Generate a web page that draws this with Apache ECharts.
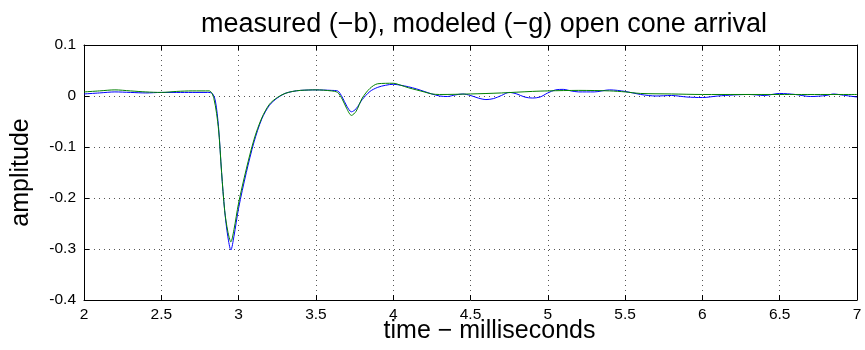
<!DOCTYPE html>
<html>
<head>
<meta charset="utf-8">
<script src="https://cdn.jsdelivr.net/npm/echarts@6/dist/echarts.min.js"></script>
<style>html,body{margin:0;padding:0;background:#fff}#c{width:865px;height:350px}</style>
</head>
<body>
<div id="c"></div>
<script>
var titleText = "measured (\u2212b), modeled (\u2212g) open cone arrival";
var xAxisName = "time \u2212 milliseconds";
var yAxisName = "amplitude";
var xTicks = [2, 2.5, 3, 3.5, 4, 4.5, 5, 5.5, 6, 6.5, 7];
var yTicks = [-0.4, -0.3, -0.2, -0.1, 0, 0.1];

var measuredTime = [2.0,2.1,2.2,2.3,2.4,2.5,2.6,2.7,2.8,2.83,2.85,2.87,2.89,2.91,2.93,2.95,2.97,3.0,3.05,3.1,3.15,3.2,3.25,3.3,3.35,3.4,3.5,3.6,3.64,3.67,3.7,3.73,3.76,3.8,3.85,3.9,3.95,4.0,4.05,4.1,4.15,4.2,4.25,4.3,4.35,4.4,4.45,4.5,4.55,4.6,4.65,4.7,4.75,4.8,4.85,4.9,4.95,5.0,5.05,5.1,5.15,5.2,5.3,5.4,5.5,5.6,5.7,5.8,5.9,6.0,6.1,6.2,6.3,6.4,6.5,6.6,6.7,6.8,6.85,6.9,7.0];
var measuredAmp = [0.004,0.006,0.008,0.007,0.006,0.007,0.007,0.007,0.007,0.005,-0.010,-0.060,-0.150,-0.225,-0.275,-0.302,-0.275,-0.220,-0.150,-0.090,-0.045,-0.018,-0.004,0.005,0.009,0.011,0.012,0.011,0.010,-0.002,-0.020,-0.031,-0.025,-0.007,0.009,0.017,0.021,0.023,0.021,0.018,0.014,0.009,0.004,0.000,-0.001,0.002,0.004,0.001,-0.004,-0.007,-0.005,0.001,0.007,0.004,-0.002,-0.004,-0.002,0.006,0.012,0.013,0.010,0.008,0.008,0.012,0.009,0.003,0.000,0.001,-0.002,-0.003,0.000,0.002,0.003,0.001,0.005,0.003,-0.001,0.001,0.004,0.002,-0.002];

var modeledTime = [2.0,2.1,2.2,2.3,2.4,2.5,2.6,2.7,2.81,2.84,2.87,2.89,2.91,2.93,2.95,2.97,3.0,3.05,3.1,3.15,3.2,3.25,3.3,3.35,3.4,3.5,3.6,3.64,3.67,3.7,3.73,3.76,3.8,3.85,3.9,4.0,4.05,4.1,4.15,4.2,4.25,4.3,4.5,4.7,4.9,5.0,5.2,5.4,5.5,5.6,5.8,6.0,6.5,7.0];
var modeledAmp = [0.008,0.010,0.012,0.010,0.008,0.007,0.009,0.010,0.010,-0.005,-0.065,-0.150,-0.225,-0.265,-0.286,-0.262,-0.210,-0.143,-0.085,-0.043,-0.016,-0.003,0.005,0.009,0.011,0.012,0.010,0.007,-0.006,-0.025,-0.038,-0.030,-0.004,0.015,0.024,0.025,0.021,0.016,0.012,0.008,0.004,0.003,0.004,0.006,0.009,0.010,0.011,0.010,0.008,0.005,0.004,0.003,0.003,0.003];

function pairs(t, v) { return t.map(function (x, i) { return [x, v[i]]; }); }

var font = "Liberation Sans, Arial, Helvetica, sans-serif";
var gridLine = { show: true, lineStyle: { color: '#555', type: [1, 4], width: 1 } };
var tickIn = { show: true, inside: true, length: 5, lineStyle: { color: '#000' } };

var chart = echarts.init(document.getElementById('c'), null, { renderer: 'canvas' });
chart.setOption({
  animation: false,
  title: {
    text: titleText, left: 479, top: 6, textAlign: 'center',
    textStyle: { fontFamily: font, fontSize: 27, fontWeight: 'normal', color: '#000' }
  },
  grid: { left: 84, right: 8, top: 45, bottom: 50, containLabel: false, outerBoundsMode: 'none' },
  xAxis: [{
    type: 'value', min: 2, max: 7, interval: 0.5,
    name: xAxisName, nameLocation: 'middle', nameGap: 19, nameMoveOverlap: false,
    nameTextStyle: { fontFamily: font, fontSize: 25, color: '#000', verticalAlign: 'top', padding: [0, 0, 0, 38] },
    axisLine: { show: true, onZero: false, lineStyle: { color: '#000' } },
    axisTick: tickIn,
    axisLabel: { fontFamily: font, fontSize: 15.5, color: '#000', margin: 7,
      formatter: function (v) { var r = +v.toFixed(2); return xTicks.indexOf(r) >= 0 ? String(r) : ''; } },
    splitLine: gridLine
  }, {
    type: 'value', min: 2, max: 7, interval: 0.5, position: 'top',
    axisLine: { show: true, onZero: false, lineStyle: { color: '#000' } },
    axisTick: tickIn, axisLabel: { show: false }, splitLine: { show: false }
  }],
  yAxis: [{
    type: 'value', min: -0.4, max: 0.1, interval: 0.1,
    name: yAxisName, nameLocation: 'middle', nameGap: 50, nameRotate: 90, nameMoveOverlap: false,
    nameTextStyle: { fontFamily: font, fontSize: 25, color: '#000' },
    axisLine: { show: true, onZero: false, lineStyle: { color: '#000' } },
    axisTick: tickIn,
    axisLabel: { fontFamily: font, fontSize: 15.5, color: '#000', margin: 8,
      formatter: function (v) { var r = +v.toFixed(2); return yTicks.indexOf(r) >= 0 ? String(r) : ''; } },
    splitLine: gridLine
  }, {
    type: 'value', min: -0.4, max: 0.1, interval: 0.1, position: 'right',
    axisLine: { show: true, onZero: false, lineStyle: { color: '#000' } },
    axisTick: tickIn, axisLabel: { show: false }, splitLine: { show: false }
  }],
  series: [{
    name: 'measured', type: 'line', data: pairs(measuredTime, measuredAmp),
    showSymbol: false, smooth: 0.3, lineStyle: { color: '#0000ff', width: 1 }, z: 3
  }, {
    name: 'modeled', type: 'line', data: pairs(modeledTime, modeledAmp),
    showSymbol: false, smooth: 0.3, lineStyle: { color: '#008000', width: 1 }, z: 4
  }]
});
</script>
</body>
</html>
